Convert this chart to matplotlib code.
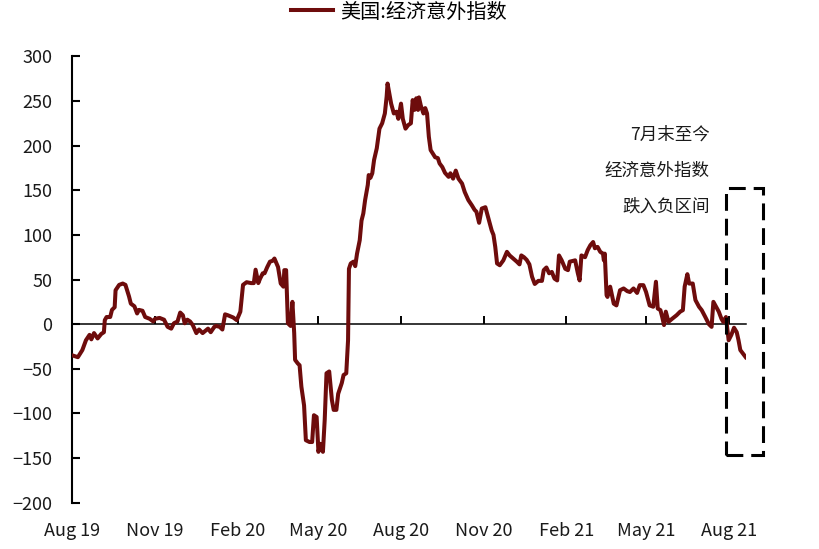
import matplotlib
matplotlib.use('Agg')
import matplotlib.pyplot as plt
import matplotlib.dates as mdates
from matplotlib.patches import Rectangle
import numpy as np
import pandas as pd

plt.rcParams['font.family'] = ['Noto Sans CJK SC', 'DejaVu Sans']

# ---------------- data ----------------
start_date = '2019-08-01'
series_label = '美国:经济意外指数'

# days since start_date
day_offset = [
    0, 6, 11, 15, 19, 21, 24, 28, 32, 35,
    36, 38, 42, 44, 47, 48, 52, 56, 59, 63,
    65, 69, 72, 74, 78, 81, 86, 90, 92, 97,
    102, 106, 110, 113, 117, 120, 123, 125, 128, 131,
    134, 138, 141, 145, 151, 154, 158,
    160, 164, 167, 170, 173, 179, 183, 187, 190, 194,
    199, 202, 204, 207, 209, 212, 214, 217, 220, 223,
    225, 229, 232, 235, 236, 238, 240, 243, 245, 247,
    248, 251, 253, 255, 258, 260, 264, 267, 269, 272,
    274, 276, 279, 281, 283, 286, 289, 291, 294, 296,
    300, 302, 305,
    307, 308, 310, 313, 315, 317, 320, 322, 324, 326,
    329, 330, 332, 334, 336, 339, 342, 345, 348, 350,
    351, 353, 355, 358, 361, 363, 366, 368, 371, 374,
    377, 379, 381, 383, 385, 386, 388, 391, 393, 395,
    397, 399, 404, 407, 409, 412, 415, 419, 421, 424,
    427, 430, 434, 437, 441, 445, 448, 450, 453, 456,
    460, 463, 467, 469, 471, 473, 476, 480, 484, 487,
    491, 495, 498, 500, 503, 506, 509, 512, 515, 519,
    523, 525, 528, 531, 534, 537, 540, 542, 545, 549,
    552, 554, 560, 563, 565, 567, 571, 574, 577, 580,
    582, 585, 588, 591, 592, 593, 595, 596, 599, 603,
    606, 610, 614, 618, 621, 625, 629, 632, 636, 639,
    643, 647, 650, 652, 655, 657, 659, 661, 664, 668,
    673, 677, 680, 682, 685, 687, 691, 694, 698, 701,
    705, 709, 712, 714, 717, 720, 723, 725, 728, 731,
    734, 737, 740, 742, 744, 747, 750,
]

index_value = [
    -35, -37, -29, -18, -12, -17, -10, -16, -11, -9,
    4.5, 8, 8, 16, 19, 38, 44, 45.5, 44, 31,
    23, 20, 12, 16, 15, 8, 6, 3, 6, 7,
    5, -3, -5, 1, 3, 13, 10, 1, 5, 3,
    -1, -10, -6, -10, -5, -9, -3,
    -2, -3, -6, 11, 10, 7.5, 4.5, 14, 44, 47,
    46, 46, 61, 46, 51, 57, 57, 64, 70, 71,
    73.5, 64, 45.5, 42, 60.5, 60.5, 1, -2, 25, -10,
    -40, -44, -46, -70, -91, -130, -132, -132, -102, -104,
    -143, -134, -143, -107, -55, -53, -85, -96, -96, -78,
    -66, -57, -55,
    -18, 62, 68, 70, 65, 79, 94, 116, 124, 139,
    156, 167, 164, 169, 184, 197, 219, 225, 236, 255,
    269.5, 258, 247, 236, 238, 230, 247, 230, 219, 223,
    225, 251, 240, 253, 240, 254, 245, 236, 242, 236,
    210, 195, 187, 186, 180, 176, 169.5, 165, 169, 163,
    172, 163, 157.5, 148, 139, 133, 128, 126, 113.5, 129.5,
    131, 120, 105, 100, 86.5, 68, 66, 71.5, 81, 77,
    73.5, 70, 67, 77, 75, 72, 67, 53, 45, 48.5,
    48.5, 60.5, 63.5, 57, 58.5, 51, 49, 77, 71.5, 62,
    60.5, 70, 71.5, 57, 49, 77, 75, 83, 88.5, 92,
    85, 86.5, 81, 79, 71.5, 79, 32.5, 30.5, 42, 23,
    21, 38, 40, 37, 36, 40, 35, 43.7, 43.7, 36,
    21, 19.5, 47.5, 17.5, 15.7, 8, -1, 14, 2.6, 6,
    10, 14, 15.7, 42, 56, 45.5, 45.5, 27, 19.5, 15.7,
    8, 0, -3, 25, 19.5, 14, 6, 2.6, 8, -18,
    -12, -4, -9, -18, -29, -33, -37,
]

tick_dates = ['2019-08-01', '2019-11-01', '2020-02-01', '2020-05-01', '2020-08-01',
              '2020-11-01', '2021-02-01', '2021-05-01', '2021-08-01']
tick_labels = ['Aug 19', 'Nov 19', 'Feb 20', 'May 20', 'Aug 20',
               'Nov 20', 'Feb 21', 'May 21', 'Aug 21']
y_ticks = [-200, -150, -100, -50, 0, 50, 100, 150, 200, 250, 300]
note_lines = ['7月末至今', '经济意外指数', '跌入负区间']
box_start, box_end = '2021-07-29', '2021-09-08'
end_date = '2021-08-20'

# ---------------- drawing ----------------
start = pd.Timestamp(start_date)
dates = start + pd.to_timedelta(day_offset, unit='D')
x = mdates.date2num(dates.values)
xt = mdates.date2num(pd.to_datetime(tick_dates).values)
x0 = mdates.date2num(np.datetime64(start_date))
x1 = mdates.date2num(np.datetime64(end_date))

fig = plt.figure(figsize=(8.19, 5.49), dpi=100)
ax = fig.add_axes([0.0885, 0.0843, 0.822, 0.8131])

line, = ax.plot(x, index_value, color='#6e0c0c', lw=2.9,
                solid_joinstyle='round', label=series_label, zorder=3)

ax.set_xlim(x0, x1)
ax.set_ylim(-200, 300)

for s in ['top', 'right']:
    ax.spines[s].set_visible(False)
ax.spines['bottom'].set_position(('data', 0))
ax.spines['bottom'].set_linewidth(1.1)
ax.spines['left'].set_linewidth(1.5)

ax.set_yticks(y_ticks)
ax.tick_params(axis='y', direction='in', length=6, width=1.5, pad=14.5,
               labelsize=13, labelcolor='#1a1a1a')
ax.set_xticks(xt)
ax.tick_params(axis='x', direction='in', length=5.5, width=1.4, labelbottom=False)

sec = ax.secondary_xaxis('bottom')
sec.set_xticks(xt, labels=tick_labels)
sec.tick_params(length=0, pad=14, labelsize=13, labelcolor='#1a1a1a')
sec.spines['bottom'].set_visible(False)

# annotation text
xn = mdates.date2num(np.datetime64('2021-07-11'))
for txt, yv in zip(note_lines, [212, 172, 132]):
    ax.text(xn, yv, txt, ha='right', va='center', fontsize=12.6, color='#1a1a1a')

# dashed box
bx0 = mdates.date2num(np.datetime64(box_start))
bx1 = mdates.date2num(np.datetime64(box_end))
rect = Rectangle((bx0, -146), bx1 - bx0, 299, fill=False, edgecolor='black',
                 lw=2.2, linestyle=(0, (5.5, 2.6)), clip_on=False, zorder=4)
ax.add_patch(rect)

fig.legend(handles=[line], loc='center', bbox_to_anchor=(399 / 819, 1 - 12 / 549),
           frameon=False, fontsize=14.5, handlelength=2.1, handletextpad=0.35,
           borderpad=0, borderaxespad=0)

fig.savefig('out.png', dpi=100, facecolor='white')
